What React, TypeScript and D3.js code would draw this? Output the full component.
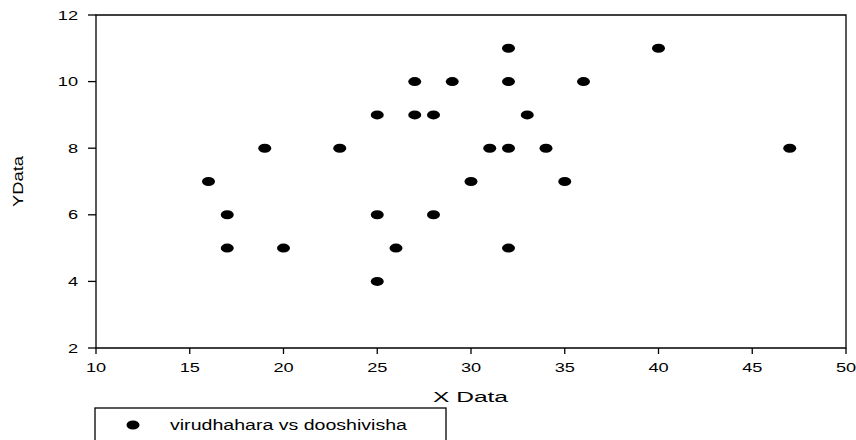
import React from "react";
import * as d3 from "d3";

const xValues = [16, 17, 17, 19, 20, 23, 25, 25, 25, 26, 27, 27, 28, 28, 29, 30, 31, 32, 32, 32, 32, 33, 34, 35, 36, 40, 47];
const yValues = [7, 6, 5, 8, 5, 8, 9, 6, 4, 5, 10, 9, 9, 6, 10, 7, 8, 11, 10, 8, 5, 9, 8, 7, 10, 11, 8];
const xTicks = [10, 15, 20, 25, 30, 35, 40, 45, 50];
const yTicks = [2, 4, 6, 8, 10, 12];
const seriesName = "virudhahara vs dooshivisha";
const xTitle = "X Data";
const yTitle = "YData";

export default function App() {
  const W = 856, H = 440;
  const left = 96, right = 846, top = 15, bottom = 348;
  const x = d3.scaleLinear().domain([10, 50]).range([left, right]);
  const y = d3.scaleLinear().domain([2, 12]).range([bottom, top]);
  const font = "Arial, 'Liberation Sans', sans-serif";
  const sx = 1.4;
  return (
    <svg width={W} height={H} style={{ position: "absolute", left: 0, top: 0 }} fontFamily={font}>
      <rect x={0} y={0} width={W} height={H} fill="#fff" />
      <path d={`M${left},${bottom}V${top}H${right}V${bottom}Z`} fill="none" stroke="#000" strokeWidth={1.3} />
      {yTicks.map((t) => (
        <g key={"y" + t}>
          <line x1={left - 8} x2={left} y1={y(t)} y2={y(t)} stroke="#000" strokeWidth={1.3} />
          <g transform={`translate(78,${y(t)}) scale(${sx},1)`}>
            <text x={0} y={0} dy="0.35em" textAnchor="end" fontSize={13}>{t}</text>
          </g>
        </g>
      ))}
      {xTicks.map((t) => (
        <g key={"x" + t}>
          <line x1={x(t)} x2={x(t)} y1={bottom} y2={bottom + 6} stroke="#000" strokeWidth={1.3} />
          <g transform={`translate(${x(t)},${bottom + 19}) scale(${sx},1)`}>
            <text x={0} y={0} dy="0.35em" textAnchor="middle" fontSize={13}>{t}</text>
          </g>
        </g>
      ))}
      <text x={433} y={402} fontSize={14} textLength={75} lengthAdjust="spacingAndGlyphs">{xTitle}</text>
      <text transform={`translate(23,${(top + bottom) / 2}) rotate(-90)`} x={-25.5} y={0} fontSize={14} textLength={51} lengthAdjust="spacingAndGlyphs">{yTitle}</text>
      {xValues.map((v, i) => (
        <ellipse key={i} cx={x(v)} cy={y(yValues[i])} rx={6.5} ry={4.5} fill="#000" />
      ))}
      <rect x={95} y={408} width={351} height={40} fill="#fff" stroke="#000" strokeWidth={1.3} />
      <ellipse cx={133} cy={425} rx={6.5} ry={4.5} fill="#000" />
      <text x={170} y={425} dy="0.35em" fontSize={14} textLength={237} lengthAdjust="spacingAndGlyphs">{seriesName}</text>
    </svg>
  );
}
